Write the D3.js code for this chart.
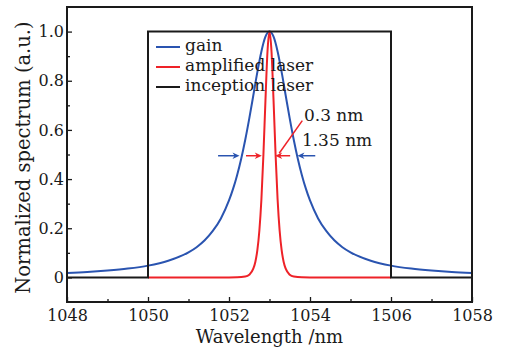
<!DOCTYPE html>
<html>
<head>
<meta charset="utf-8">
<script src="https://cdn.jsdelivr.net/npm/d3@7"></script>
<style>
  html, body { margin: 0; padding: 0; background: #fff; }
  svg { display: block; }
  text { font-family: "DejaVu Serif", serif; fill: #1a1a1a; }
</style>
</head>
<body>
<svg id="chart" width="516" height="349"></svg>
<script>
// Gain spectrum (Lorentzian-like, FWHM 1.35 nm)
const gainWl = [1048, 1048.5, 1049, 1049.5, 1050, 1050.5, 1051, 1051.2, 1051.4, 1051.6, 1051.8,
  1052, 1052.1, 1052.2, 1052.3, 1052.4, 1052.5, 1052.6, 1052.7, 1052.8, 1052.9, 1053,
  1053.1, 1053.2, 1053.3, 1053.4, 1053.5, 1053.6, 1053.7, 1053.8, 1053.9, 1054,
  1054.2, 1054.4, 1054.6, 1054.8, 1055, 1055.5, 1056, 1056.5, 1057, 1057.5, 1058];
const gainVal = [0.018, 0.022, 0.028, 0.036, 0.048, 0.068, 0.102, 0.123, 0.151, 0.189, 0.240,
  0.313, 0.360, 0.416, 0.482, 0.559, 0.646, 0.740, 0.835, 0.919, 0.979, 1.000,
  0.979, 0.919, 0.835, 0.740, 0.646, 0.559, 0.482, 0.416, 0.360, 0.313,
  0.240, 0.189, 0.151, 0.123, 0.102, 0.068, 0.048, 0.036, 0.028, 0.022, 0.018];

// Amplified laser spectrum (FWHM 0.3 nm)
const ampWl = [1050, 1051, 1052, 1052.2, 1052.4, 1052.5, 1052.6, 1052.65, 1052.7, 1052.75,
  1052.8, 1052.85, 1052.9, 1052.95, 1053, 1053.05, 1053.1, 1053.15, 1053.2, 1053.25,
  1053.3, 1053.35, 1053.4, 1053.5, 1053.6, 1053.8, 1054, 1055, 1056];
const ampVal = [0, 0, 0, 0.0003, 0.0034, 0.0111, 0.0355, 0.063, 0.111, 0.191,
  0.317, 0.500, 0.720, 0.918, 1.000, 0.918, 0.720, 0.500, 0.317, 0.191,
  0.111, 0.063, 0.0355, 0.0111, 0.0034, 0.0003, 0, 0, 0];

// Inception laser (flat-top window 1050-1056 nm)
const incWl = [1048, 1050, 1050, 1056, 1056, 1058];
const incVal = [0, 0, 1, 1, 0, 0];

// Axis ticks and labels
const xTicks = [1048, 1050, 1052, 1054, 1056, 1058];
const xTickLabels = ["1048", "1050", "1052", "1054", "1506", "1058"];
const xMinorTicks = [1049, 1051, 1053, 1055, 1057];
const yTicks = [0, 0.2, 0.4, 0.6, 0.8, 1.0];
const yTickLabels = ["0", "0.2", "0.4", "0.6", "0.8", "1.0"];
const yMinorTicks = [0.1, 0.3, 0.5, 0.7, 0.9];

const seriesNames = ["gain", "amplified laser", "inception laser"];
const seriesColors = ["#2a54b0", "#ee2228", "#1a1a1a"];

// FWHM markers: [tail, tip] wavelengths at the half-maximum level
const halfLevel = 0.495;
const gainArrows = [[1051.73, 1052.26], [1054.13, 1053.69]];
const ampArrows = [[1052.42, 1052.81], [1053.51, 1053.14]];
const leader = [[1053.24, 0.505], [1053.81, 0.638]];
const fwhmLabels = [["0.3 nm", 1053.85, 0.635], ["1.35 nm", 1053.8, 0.535]];

const svg = d3.select("#chart");
const margin = { left: 67, top: 7, right: 44, bottom: 47 };
const W = 516 - margin.left - margin.right;
const H = 349 - margin.top - margin.bottom;
const g = svg.append("g").attr("transform", `translate(${margin.left},${margin.top})`);

const x = d3.scaleLinear().domain([1048, 1058]).range([0, W]);
const y = d3.scaleLinear().domain([-0.1, 1.1]).range([H, 0]);

// Axes with inward ticks
const xAxis = d3.axisBottom(x).tickValues(xTicks)
  .tickFormat((d, i) => xTickLabels[i]).tickSizeInner(-5).tickSizeOuter(0).tickPadding(8);
const xMinor = d3.axisBottom(x).tickValues(xMinorTicks).tickFormat("").tickSizeInner(-3).tickSizeOuter(0);
const yAxis = d3.axisLeft(y).tickValues(yTicks)
  .tickFormat((d, i) => yTickLabels[i]).tickSizeInner(-5).tickSizeOuter(0).tickPadding(3);
const yMinor = d3.axisLeft(y).tickValues(yMinorTicks).tickFormat("").tickSizeInner(-3).tickSizeOuter(0);

function styleAxis(sel) {
  sel.select(".domain").remove();
  sel.selectAll("line").attr("stroke", "#1a1a1a").attr("stroke-width", 1.3);
  sel.selectAll("text").style("font-family", "'DejaVu Serif', serif").style("font-size", "16px").attr("fill", "#1a1a1a");
}
g.append("g").attr("transform", `translate(0,${H})`).call(xAxis).call(styleAxis);
g.append("g").attr("transform", `translate(0,${H})`).call(xMinor).call(styleAxis);
g.append("g").call(yAxis).call(styleAxis);
g.append("g").call(yMinor).call(styleAxis);

// Curves
const lineSmooth = d3.line().x(d => x(d[0])).y(d => y(d[1])).curve(d3.curveMonotoneX);
const lineStraight = d3.line().x(d => x(d[0])).y(d => y(d[1]));

const plot = g.append("g");
plot.append("path").datum(d3.zip(gainWl, gainVal)).attr("d", lineSmooth)
  .attr("fill", "none").attr("stroke", seriesColors[0]).attr("stroke-width", 2);
plot.append("path").datum(d3.zip(ampWl, ampVal)).attr("d", lineSmooth)
  .attr("fill", "none").attr("stroke", seriesColors[1]).attr("stroke-width", 2);
plot.append("path").datum(d3.zip(incWl, incVal)).attr("d", lineStraight)
  .attr("fill", "none").attr("stroke", seriesColors[2]).attr("stroke-width", 2);

// FWHM arrows
function arrow(tail, tip, color) {
  const yy = y(halfLevel);
  const x0 = x(tail), x1 = x(tip);
  const dir = Math.sign(x1 - x0);
  plot.append("line").attr("x1", x0).attr("x2", x1 - dir * 4).attr("y1", yy).attr("y2", yy)
    .attr("stroke", color).attr("stroke-width", 1.5);
  plot.append("path")
    .attr("d", `M${x1},${yy} L${x1 - dir * 7},${yy - 3.2} L${x1 - dir * 5},${yy} L${x1 - dir * 7},${yy + 3.2} Z`)
    .attr("fill", color);
}
gainArrows.forEach(a => arrow(a[0], a[1], seriesColors[0]));
ampArrows.forEach(a => arrow(a[0], a[1], seriesColors[1]));

plot.append("line")
  .attr("x1", x(leader[0][0])).attr("y1", y(leader[0][1]))
  .attr("x2", x(leader[1][0])).attr("y2", y(leader[1][1]))
  .attr("stroke", seriesColors[1]).attr("stroke-width", 1.5);

fwhmLabels.forEach(l => {
  g.append("text").attr("x", x(l[1])).attr("y", y(l[2]))
    .style("font-size", "17px").text(l[0]);
});

// Legend
const legend = g.append("g").attr("transform", "translate(89,40)");
seriesNames.forEach((name, i) => {
  legend.append("line").attr("x1", 0).attr("x2", 24).attr("y1", i * 20).attr("y2", i * 20)
    .attr("stroke", seriesColors[i]).attr("stroke-width", 2);
  legend.append("text").attr("x", 29).attr("y", i * 20 + 4).style("font-size", "17px").text(name);
});

// Frame
g.append("rect").attr("x", 0).attr("y", 0).attr("width", W).attr("height", H)
  .attr("fill", "none").attr("stroke", "#1a1a1a").attr("stroke-width", 2);

// Axis titles
g.append("text").attr("x", W / 2).attr("y", H + 41).attr("text-anchor", "middle")
  .style("font-size", "18px").text("Wavelength /nm");
g.append("text").attr("transform", `translate(-37,${H / 2 + 3}) rotate(-90)`).attr("text-anchor", "middle")
  .style("font-size", "19.5px").text("Normalized spectrum (a.u.)");
</script>
</body>
</html>
